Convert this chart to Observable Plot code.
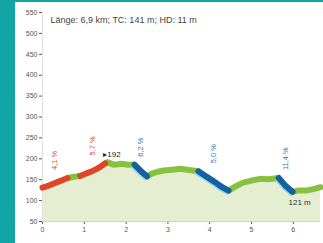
<!DOCTYPE html>
<html><head><meta charset="utf-8">
<script src="https://cdn.jsdelivr.net/npm/d3@7"></script>
<script src="https://cdn.jsdelivr.net/npm/@observablehq/plot@0.6"></script>
<style>
html,body{margin:0;padding:0;background:#12a5a6;width:323px;height:243px;overflow:hidden;}
#panel{position:absolute;left:15px;top:2px;width:308px;height:241px;background:#fff;}
#panel svg{display:block;font-family:"Liberation Sans",Arial,sans-serif;}
</style></head><body><div id="panel"></div>
<script>
const title = "Länge: 6,9 km; TC: 141 m; HD: 11 m";
const km   = [0, 0.1, 0.2, 0.3, 0.4, 0.5, 0.6, 0.75, 0.9, 1.0, 1.1, 1.2, 1.3, 1.4, 1.5, 1.55, 1.7, 1.9, 2.05, 2.2, 2.35, 2.5, 2.6, 2.75, 2.9, 3.1, 3.3, 3.5, 3.73, 3.9, 4.1, 4.3, 4.45, 4.6, 4.8, 5.0, 5.2, 5.4, 5.65, 5.8, 5.98, 6.1, 6.3, 6.5, 6.65];
const elev = [131, 134, 138, 142, 146, 150, 154, 157, 159, 163, 167, 171, 176, 182, 189, 192, 186, 188, 186, 186, 171, 158, 164, 169, 172, 174, 176, 173, 170, 159, 146, 132, 124, 133, 143, 148, 152, 151, 154, 137, 121, 124, 124, 128, 132];
const segStart = [0, 0.6, 0.9, 1.5, 2.2, 2.5, 3.73, 4.45, 5.65, 5.98];
const segType  = ["up", "flat", "up", "flat", "down", "flat", "down", "flat", "down", "flat"];
const gradeLabels = ["4,1 %", "5,7 %", "6,2 %", "5,0 %", "11,4 %"];
const peakLabel = "\u25B8192";
const minLabel = "121 m";
const yTicks = [50, 100, 150, 200, 250, 300, 350, 400, 450, 500, 550];
const xTicks = [0, 1, 2, 3, 4, 5, 6];

const pts = km.map((k, i) => ({km: k, el: elev[i]}));
const segRows = [];
const labelRows = [];
let li = 0;
segStart.forEach((s, j) => {
  const e = j + 1 < segStart.length ? segStart[j + 1] : Infinity;
  const sp = pts.filter(p => p.km >= s - 1e-9 && p.km <= e + 1e-9);
  sp.forEach(p => segRows.push({...p, seg: j, type: segType[j]}));
  if (segType[j] !== "flat") {
    labelRows.push({km: (sp[0].km + sp[sp.length - 1].km) / 2, el: d3.max(sp, p => p.el), type: segType[j], text: gradeLabels[li++]});
  }
});
const peak = pts.reduce((a, b) => b.el > a.el ? b : a);
const low = pts.filter(p => p.km > 5).reduce((a, b) => b.el < a.el ? b : a);

const chart = Plot.plot({
  width: 308, height: 241,
  marginLeft: 27, marginRight: 3, marginTop: 10, marginBottom: 22,
  x: {domain: [0, 6.65], ticks: xTicks, tickFormat: d => d, label: null, tickSize: 3, tickPadding: 3},
  y: {domain: [50, 550], ticks: yTicks, label: null, tickSize: 3, tickPadding: 2},
  style: {fontSize: "7px", color: "#555", background: "transparent"},
  marks: [
    Plot.areaY(pts, {x: "km", y1: 50, y2: "el", fill: "#e5eed0"}),
    Plot.ruleY([50], {stroke: "#cfcfcf"}),
    Plot.ruleX([0], {stroke: "#e2e2e2"}),
    Plot.line(segRows.filter(d => d.type === "flat"), {x: "km", y: "el", z: "seg", stroke: "#86c23e", strokeWidth: 6}),
    Plot.line(segRows.filter(d => d.type === "down"), {x: "km", y: "el", z: "seg", stroke: "#8fd3f2", strokeWidth: 4, dx: -1.5, dy: 2}),
    Plot.line(segRows.filter(d => d.type === "down"), {x: "km", y: "el", z: "seg", stroke: "#15609f", strokeWidth: 6}),
    Plot.line(segRows.filter(d => d.type === "up"), {x: "km", y: "el", z: "seg", stroke: "#e0452a", strokeWidth: 6}),
    Plot.text(labelRows, {x: "km", y: "el", text: "text", rotate: -90, textAnchor: "start", dy: -8, fontSize: 7.5,
      fill: d => d.type === "up" ? "#e2502f" : "#3475b8"}),
    Plot.text([peak], {x: "km", y: "el", text: () => peakLabel, textAnchor: "start", dx: -4, dy: -8, fontSize: 8, fill: "#222"}),
    Plot.text([low], {x: "km", y: "el", text: () => minLabel, textAnchor: "start", dx: -4, dy: 11, fontSize: 8, fill: "#333"}),
    Plot.text([title], {frameAnchor: "top-left", text: d => d, dx: 8, dy: 4, fontSize: 9, fill: "#444"})
  ]
});
document.getElementById("panel").appendChild(chart);
</script>
</body></html>
